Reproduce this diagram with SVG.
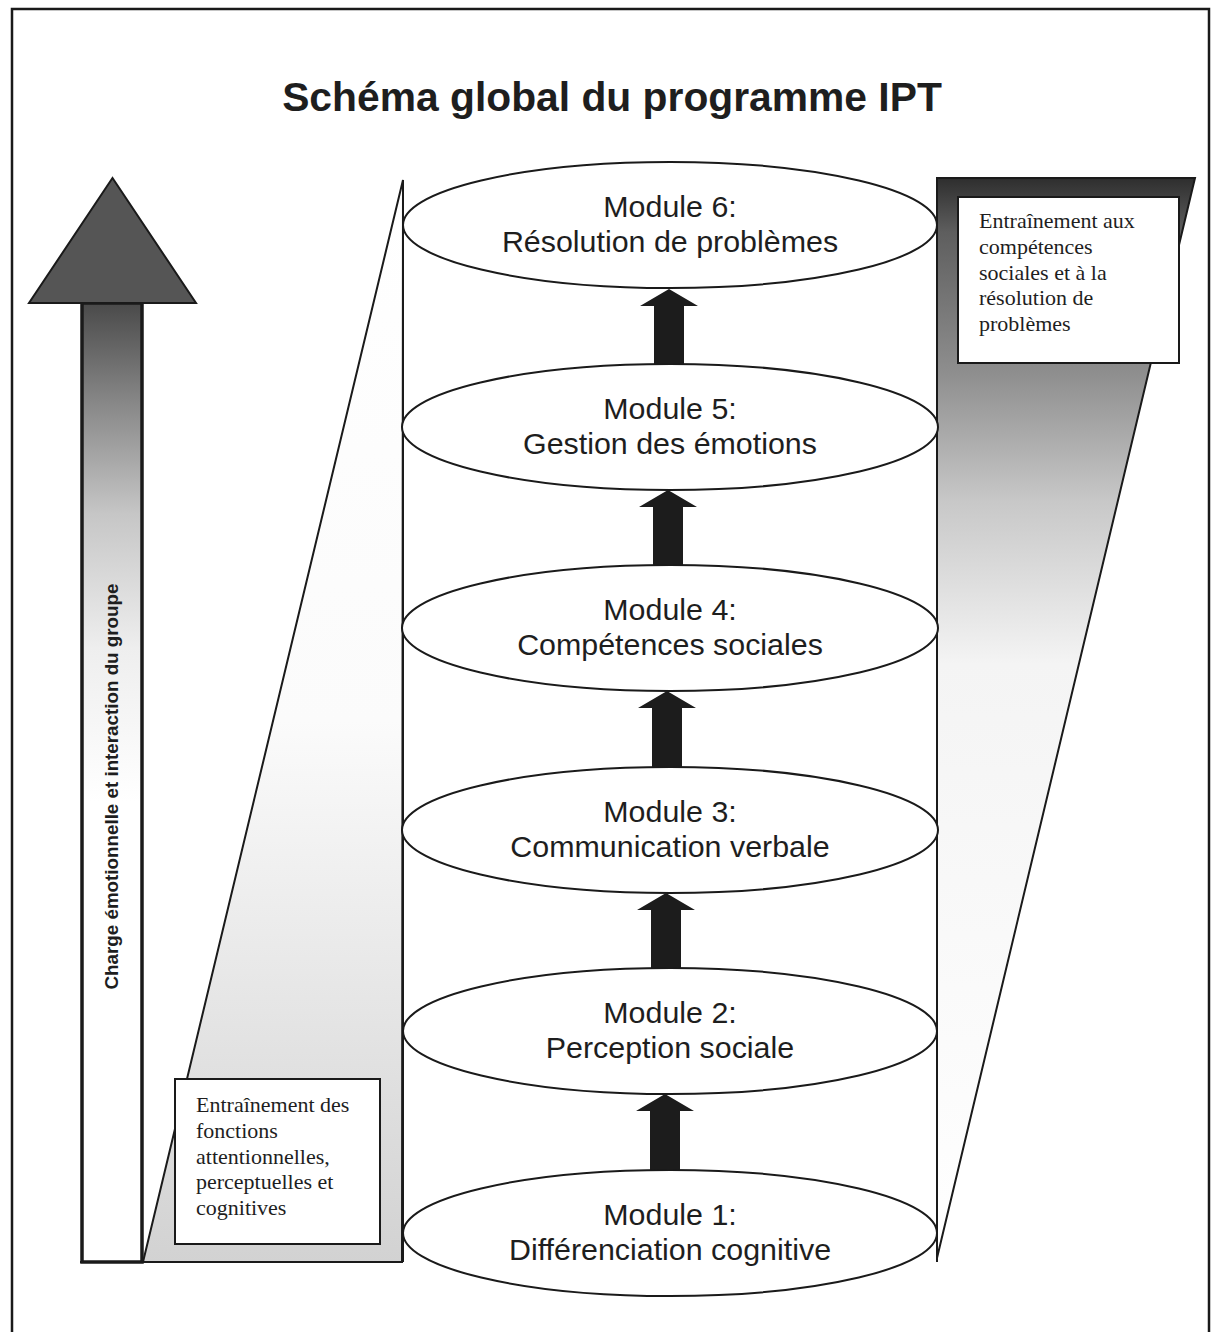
<svg xmlns="http://www.w3.org/2000/svg" width="1212" height="1332" viewBox="0 0 1212 1332">
<defs>
<style>
.frame{fill:#fff;stroke:#1a1a1a;stroke-width:2.5}
.ell{fill:#fff;stroke:#1a1a1a;stroke-width:2}
.ln{fill:none;stroke:#1a1a1a;stroke-width:2}
.mod{font-family:"Liberation Sans",Arial,sans-serif;font-size:30.4px;fill:#1e1e1e;text-anchor:middle}
.box{fill:#fff;stroke:#1a1a1a;stroke-width:2}
.boxt{font-family:"Liberation Serif","Times New Roman",serif;font-size:22px;fill:#1e1e1e}
.blk{fill:#1c1c1c}
</style>
<linearGradient id="gShaft" gradientUnits="userSpaceOnUse" x1="0" y1="303" x2="0" y2="1262">
<stop offset="0" stop-color="#4a4a4a"/>
<stop offset="0.1" stop-color="#858585"/>
<stop offset="0.22" stop-color="#c6c6c6"/>
<stop offset="0.36" stop-color="#eeeeee"/>
<stop offset="0.52" stop-color="#ffffff"/>
<stop offset="1" stop-color="#ffffff"/>
</linearGradient>
<linearGradient id="gLeft" gradientUnits="userSpaceOnUse" x1="0" y1="180" x2="0" y2="1262">
<stop offset="0" stop-color="#ffffff"/>
<stop offset="0.5" stop-color="#fbfbfb"/>
<stop offset="1" stop-color="#d2d2d2"/>
</linearGradient>
<linearGradient id="gRight" gradientUnits="userSpaceOnUse" x1="0" y1="178" x2="0" y2="1258">
<stop offset="0" stop-color="#2e2e2e"/>
<stop offset="0.05" stop-color="#5e5e5e"/>
<stop offset="0.18" stop-color="#8e8e8e"/>
<stop offset="0.3" stop-color="#c8c8c8"/>
<stop offset="0.45" stop-color="#f4f4f4"/>
<stop offset="1" stop-color="#ffffff"/>
</linearGradient>
</defs>

<rect class="frame" x="12" y="9" width="1197" height="1340"/>

<g id="title">
<text x="612" y="111" font-family="Liberation Sans,Arial,sans-serif" font-size="40.8" font-weight="bold" fill="#1e1e1e" text-anchor="middle">Schéma global du programme IPT</text>
</g>

<g id="left-wedge">
<polygon points="403,180 143,1262 402,1262" fill="url(#gLeft)" stroke="#1a1a1a" stroke-width="2"/>
<line class="ln" x1="80" y1="1262" x2="402" y2="1262" stroke-width="3"/>
</g>

<g id="right-wedge">
<polygon points="937,178 1195,178 937,1258" fill="url(#gRight)" stroke="#1a1a1a" stroke-width="2"/>
</g>

<g id="load-arrow">
<rect x="82" y="303" width="60" height="959" fill="url(#gShaft)" stroke="#1a1a1a" stroke-width="3.5"/>
<polygon points="112.5,178 29,303 196,303" fill="#555" stroke="#1a1a1a" stroke-width="2"/>
<text transform="translate(118,786.5) rotate(-90)" font-family="Liberation Sans,Arial,sans-serif" font-size="18.8" font-weight="bold" fill="#1e1e1e" text-anchor="middle">Charge émotionnelle et interaction du groupe</text>
</g>

<g id="cylinder">
<line class="ln" x1="403" y1="180" x2="403" y2="1262" stroke-width="1.8"/>
<line class="ln" x1="937" y1="180" x2="937" y2="1262" stroke-width="1.8"/>
</g>

<g id="connectors">
<polygon class="blk" points="669,289 698,306 684,306 684,364 654,364 654,306 640,306"/>
<polygon class="blk" points="668,490 697,507 683,507 683,565 653,565 653,507 639,507"/>
<polygon class="blk" points="667,691 696,708 682,708 682,767 652,767 652,708 638,708"/>
<polygon class="blk" points="666,893 695,910 681,910 681,968 651,968 651,910 637,910"/>
<polygon class="blk" points="665,1094 694,1111 680,1111 680,1170 650,1170 650,1111 636,1111"/>
</g>

<g id="module6">
<ellipse class="ell" cx="670" cy="225" rx="267" ry="63"/>
<text class="mod" x="670" y="217">Module 6:</text>
<text class="mod" x="670" y="252">Résolution de problèmes</text>
</g>
<g id="module5">
<ellipse class="ell" cx="670" cy="427" rx="268" ry="63"/>
<text class="mod" x="670" y="419">Module 5:</text>
<text class="mod" x="670" y="454">Gestion des émotions</text>
</g>
<g id="module4">
<ellipse class="ell" cx="670" cy="628" rx="268" ry="63"/>
<text class="mod" x="670" y="620">Module 4:</text>
<text class="mod" x="670" y="655">Compétences sociales</text>
</g>
<g id="module3">
<ellipse class="ell" cx="670" cy="830" rx="268" ry="63"/>
<text class="mod" x="670" y="822">Module 3:</text>
<text class="mod" x="670" y="857">Communication verbale</text>
</g>
<g id="module2">
<ellipse class="ell" cx="670" cy="1031" rx="267" ry="63"/>
<text class="mod" x="670" y="1023">Module 2:</text>
<text class="mod" x="670" y="1058">Perception sociale</text>
</g>
<g id="module1">
<ellipse class="ell" cx="670" cy="1233" rx="267" ry="63"/>
<text class="mod" x="670" y="1225">Module 1:</text>
<text class="mod" x="670" y="1260">Différenciation cognitive</text>
</g>

<g id="box-social">
<rect class="box" x="958" y="197" width="221" height="166"/>
<text class="boxt" x="979" y="228">Entraînement aux</text>
<text class="boxt" x="979" y="254">compétences</text>
<text class="boxt" x="979" y="280">sociales et à la</text>
<text class="boxt" x="979" y="305">résolution de</text>
<text class="boxt" x="979" y="331">problèmes</text>
</g>

<g id="box-cognitive">
<rect class="box" x="175" y="1079" width="205" height="165"/>
<text class="boxt" x="196" y="1112">Entraînement des</text>
<text class="boxt" x="196" y="1138">fonctions</text>
<text class="boxt" x="196" y="1164">attentionnelles,</text>
<text class="boxt" x="196" y="1189">perceptuelles et</text>
<text class="boxt" x="196" y="1215">cognitives</text>
</g>
</svg>
